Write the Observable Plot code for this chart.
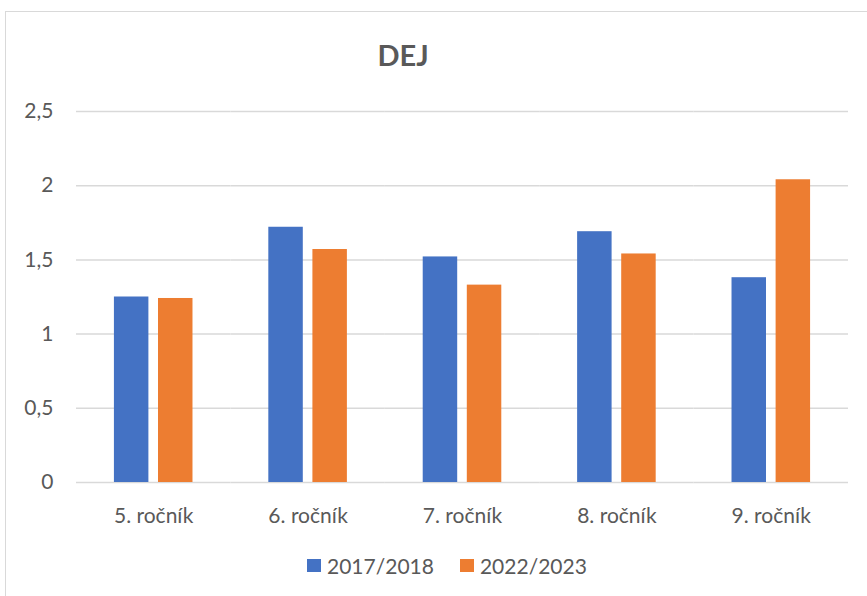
<!DOCTYPE html>
<html>
<head>
<meta charset="utf-8">
<script src="https://cdn.jsdelivr.net/npm/d3@7"></script>
<script src="https://cdn.jsdelivr.net/npm/@observablehq/plot@0.6"></script>
<style>
  html, body { margin: 0; padding: 0; background: #fff; }
  #wrap { position: relative; width: 867px; height: 596px; overflow: hidden; font-family: Lato, sans-serif; color: #595959; }
  #frame { position: absolute; left: 5px; top: 11px; width: 900px; height: 700px; border: 1.5px solid #d9d9d9; box-sizing: border-box; }
  #title { position: absolute; left: 0; width: 806px; top: 37px; text-align: center; font-size: 29px; font-weight: bold; color: #595959; }
  #chart { position: absolute; left: 0; top: 0; }
  #legend { position: absolute; top: 553px; left: 307px; font-size: 21px; display: flex; align-items: center; white-space: nowrap; }
  #legend .sw { display: inline-block; width: 14px; height: 13px; margin-right: 6px; }
  #legend .item { display: flex; align-items: center; margin-right: 26px; }
</style>
</head>
<body>
<div id="wrap">
  <div id="frame"></div>
  <div id="title">DEJ</div>
  <div id="chart"></div>
  <div id="legend"></div>
</div>
<script>
const categories = ["5. ročník", "6. ročník", "7. ročník", "8. ročník", "9. ročník"];
const series = ["2017/2018", "2022/2023"];
const values2017 = [1.25, 1.72, 1.52, 1.69, 1.38];
const values2022 = [1.24, 1.57, 1.33, 1.54, 2.04];
const colors = ["#4472C4", "#ED7D31"];
const yTicks = [0, 0.5, 1, 1.5, 2, 2.5];

const data = [];
categories.forEach((c, i) => {
  data.push({category: c, series: series[0], value: values2017[i]});
  data.push({category: c, series: series[1], value: values2022[i]});
});

const fmt = d => String(d).replace(".", ",");

const chart = Plot.plot({
  width: 867,
  height: 540,
  marginTop: 111,
  marginBottom: 58,
  marginLeft: 76,
  marginRight: 19,
  style: {fontFamily: "Lato, sans-serif", fontSize: "21px", color: "#595959", background: "transparent"},
  fx: {domain: categories, padding: 0, round: false, label: null, axis: "bottom", tickSize: 0, tickPadding: 26},
  x: {domain: series, paddingInner: 0.218, paddingOuter: 0.86, round: false, axis: null},
  y: {domain: [0, 2.5], ticks: yTicks, tickFormat: fmt, tickSize: 0, tickPadding: 23, label: null},
  color: {domain: series, range: colors},
  marks: [
    Plot.ruleY(yTicks, {stroke: "#d9d9d9", strokeWidth: 1.5}),
    Plot.barY(data, {fx: "category", x: "series", y: "value", fill: "series"})
  ]
});
document.getElementById("chart").appendChild(chart);

const legend = document.getElementById("legend");
series.forEach((s, i) => {
  const item = document.createElement("div");
  item.className = "item";
  const sw = document.createElement("span");
  sw.className = "sw";
  sw.style.background = colors[i];
  item.appendChild(sw);
  item.appendChild(document.createTextNode(s));
  legend.appendChild(item);
});
</script>
</body>
</html>
